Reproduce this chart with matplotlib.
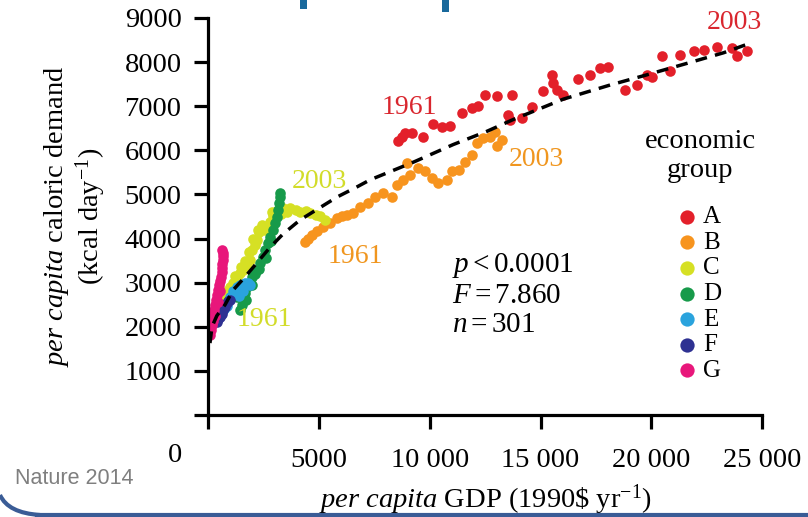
import matplotlib
matplotlib.use("Agg")
from matplotlib import pyplot as plt
from matplotlib.lines import Line2D
from matplotlib.patches import PathPatch, Rectangle
from matplotlib.path import Path

plt.rcParams["font.family"] = ["Liberation Serif", "DejaVu Serif"]
plt.rcParams["mathtext.fontset"] = "custom"
plt.rcParams["mathtext.rm"] = "Liberation Serif"
plt.rcParams["mathtext.it"] = "Liberation Serif:italic"

# per capita GDP (1990$/yr) and caloric demand (kcal/day)
A_gdp = [8590, 8750, 8890, 9190, 9720, 10170, 10550, 10920, 11450, 11900, 12200, 12500,
         13030, 13700, 13630, 13550, 14150, 14600, 15130, 15500, 15580, 15740, 16030,
         16710, 17240, 17690, 18060, 18820, 19340, 19800, 20020, 20850, 20470, 21300,
         21900, 22350, 22950, 23630, 23860, 24310]
A_kcal = [6200, 6300, 6390, 6400, 6310, 6600, 6520, 6550, 6840, 6950, 7010, 7260,
          7230, 7260, 6690, 6800, 6730, 6990, 7350, 7710, 7520, 7370, 7260,
          7620, 7710, 7860, 7880, 7370, 7480, 7710, 7670, 7790, 8140, 8160,
          8240, 8280, 8350, 8320, 8140, 8240]

B_gdp = [4380, 4530, 4680, 4900, 5200, 5510, 5810, 6050, 6260, 6560, 6860, 7230, 7540,
         7910, 8290, 8520, 8810, 8970, 9120, 9490, 9790, 10090, 10390, 10770, 11000,
         11300, 11600, 11900, 12130, 12420, 12730, 12950, 13250, 13030]
B_kcal = [3930, 3990, 4080, 4160, 4270, 4350, 4460, 4500, 4540, 4570, 4720, 4800, 4950,
          5030, 4950, 5220, 5330, 5710, 5440, 5590, 5520, 5370, 5250, 5330, 5520,
          5560, 5740, 5900, 6160, 6270, 6310, 6420, 6240, 6090]

C_gdp = [690, 850, 900, 990, 1140, 1200, 1290, 1440, 1500, 1600, 1650, 1750, 1850, 1900,
         1990, 2050, 2100, 2200, 2250, 2300, 2420, 2550, 2650, 2800, 2900, 2950, 3050,
         3170, 3300, 3400, 3550, 3700, 3950, 4150, 4400, 4600, 4850, 5050, 5280]
C_kcal = [2680, 2800, 2790, 2910, 2990, 3150, 3100, 3210, 3350, 3280, 3500, 3360, 3700,
          3510, 3740, 4000, 3850, 3970, 4200, 4150, 4310, 4200, 4270, 4380, 4600, 4500,
          4600, 4650, 4550, 4700, 4600, 4690, 4650, 4610, 4620, 4570, 4540, 4500, 4420]

D_gdp = [1300, 1440, 1520, 1580, 1670, 1700, 1760, 1900, 1990, 2000, 2100, 2210, 2300,
         2350, 2480, 2570, 2600, 2710, 2800, 2850, 2950, 3020, 3110, 3160, 3200, 3250,
         3250]
D_kcal = [2680, 2380, 2500, 2610, 2760, 2600, 2900, 3000, 3130, 2950, 3200, 3290, 3300,
          3450, 3590, 3740, 3550, 3900, 4040, 3950, 4200, 4350, 4490, 4650, 4800, 4950,
          5030]

E_gdp = [630, 740, 840, 990, 1140, 1290, 1400, 1450, 1600, 1670, 1800, 1900]
E_kcal = [2340, 2400, 2460, 2680, 2800, 2910, 2700, 2950, 2800, 2990, 3000, 2950]

F_gdp = [400, 470, 540, 610, 690, 760, 840, 920, 990]
F_kcal = [2110, 2170, 2230, 2300, 2380, 2450, 2530, 2580, 2610]

G_gdp = [90, 130, 180, 210, 240, 280, 320, 360, 400, 450, 500, 540, 580, 620, 640, 650,
         670, 690, 660, 630, 330, 430, 520]
G_kcal = [1810, 1930, 2040, 2140, 2240, 2370, 2490, 2600, 2720, 2830, 2950, 3040, 3130,
          3230, 3330, 3420, 3510, 3600, 3680, 3740, 2250, 2550, 2800]

fit_gdp = [90, 180, 400, 770, 1130, 1670, 2210, 2800, 3380, 4150, 4920, 5820, 6720,
           7310, 9260, 11060, 12580, 13780, 16030, 18140, 19720, 21530, 23250, 24300]
fit_kcal = [1630, 2000, 2250, 2500, 2830, 3130, 3450, 3800, 4100, 4420, 4660, 4940, 5170,
            5330, 5730, 6130, 6430, 6700, 7160, 7480, 7700, 7960, 8210, 8400]

groups = ["A", "B", "C", "D", "E", "F", "G"]
colors = ["#e3202a", "#f7941e", "#d6e024", "#179a4a", "#2aa3dd", "#2e3192", "#e8177b"]
series = [(A_gdp, A_kcal), (B_gdp, B_kcal), (C_gdp, C_kcal), (D_gdp, D_kcal),
          (E_gdp, E_kcal), (F_gdp, F_kcal), (G_gdp, G_kcal)]

# year annotations: (text, gdp, kcal, colour)
year_labels = [
    ("1961", 9070, 6980, "#d9262e"),
    ("2003", 23740, 8890, "#d9262e"),
    ("1961", 6630, 3600, "#f0961f"),
    ("2003", 14800, 5780, "#f0961f"),
    ("1961", 2530, 2170, "#d2dc2a"),
    ("2003", 5010, 5300, "#d2dc2a"),
]

x_ticks = [0, 5000, 10000, 15000, 20000, 25000]
x_tick_labels = ["", "5000", "10 000", "15 000", "20 000", "25 000"]
y_ticks = list(range(0, 9001, 1000))
y_tick_labels = [""] + [str(v) for v in y_ticks[1:]]

fig = plt.figure(figsize=(8.08, 5.17), dpi=100)
ax = fig.add_axes([0.2574, 0.1973, 0.686, 0.768])

for g, c, (gx, gy) in zip(groups, colors, series):
    ax.scatter(gx, gy, s=58, color=c, linewidths=0, label=g, zorder=2)

ax.plot(fit_gdp, fit_kcal, color="black", lw=2.5, linestyle=(0, (3.4, 2.4)), zorder=3)

for txt, gx, gy, c in year_labels:
    ax.text(gx, gy, txt, color=c, fontsize=20, ha="center", va="center")

ax.text(0.44, 0.413, "$p < 0.0001$\n$F = 7.860$\n$n = 301$", transform=ax.transAxes,
        fontsize=21, ha="left", va="top", linespacing=1.15)

ax.set_xlim(0, 25000)
ax.set_ylim(0, 9000)
ax.set_xticks(x_ticks, x_tick_labels)
ax.set_yticks(y_ticks, y_tick_labels)
for s in ["top", "right"]:
    ax.spines[s].set_visible(False)
for s in ["left", "bottom"]:
    ax.spines[s].set_linewidth(2.3)
ax.tick_params(direction="out", length=10, width=2.3, labelsize=20.5, pad=9)
ax.tick_params(axis="x", pad=14)

ax.text(-0.06, -0.103, "0", transform=ax.transAxes, fontsize=20.5, ha="center", va="center")

ax.set_ylabel("$\\mathit{per\\ capita}$ caloric demand\n(kcal day$^{-1}$)",
              fontsize=20.5, linespacing=1.1)
ax.yaxis.set_label_coords(-0.18, 0.5)
ax.set_xlabel("$\\mathit{per\\ capita}$ GDP (1990\\$ yr$^{-1}$)", fontsize=20.5)
ax.xaxis.set_label_coords(0.5, -0.17)

# legend: title as its own text, entries below it
ax.text(0.888, 0.652, "economic\ngroup", transform=ax.transAxes, fontsize=20.5,
        ha="center", va="center", multialignment="center", linespacing=1.2)
ax.legend(loc="upper left", bbox_to_anchor=(0.851, 0.527), frameon=False, fontsize=18,
          handlelength=0.6, handletextpad=0.34, labelspacing=0.125, borderpad=0,
          borderaxespad=0, markerscale=1.35)

fig.text(15 / 808, 1 - 479 / 517, "Nature 2014", family="Liberation Sans", fontsize=15.5,
         color="#7f7f7f", ha="left", va="center")

# slide decorations: bottom border with rounded corner, cut-off title strokes
blue = "#3a5c96"
fig.add_artist(Line2D([37 / 808, 1], [2 / 517, 2 / 517], transform=fig.transFigure,
                      color=blue, lw=3))
corner = Path([(0, 22 / 517), (8 / 808, 4 / 517), (40 / 808, 2 / 517)],
              [Path.MOVETO, Path.CURVE3, Path.CURVE3])
fig.add_artist(PathPatch(corner, transform=fig.transFigure, fill=False, ec=blue, lw=3))
for x0, h in [(300, 9), (442, 12)]:
    fig.add_artist(Rectangle((x0 / 808, 1 - h / 517), 7 / 808, h / 517,
                             transform=fig.transFigure, color="#19699c", lw=0))

fig.savefig("out.png", dpi=100)
